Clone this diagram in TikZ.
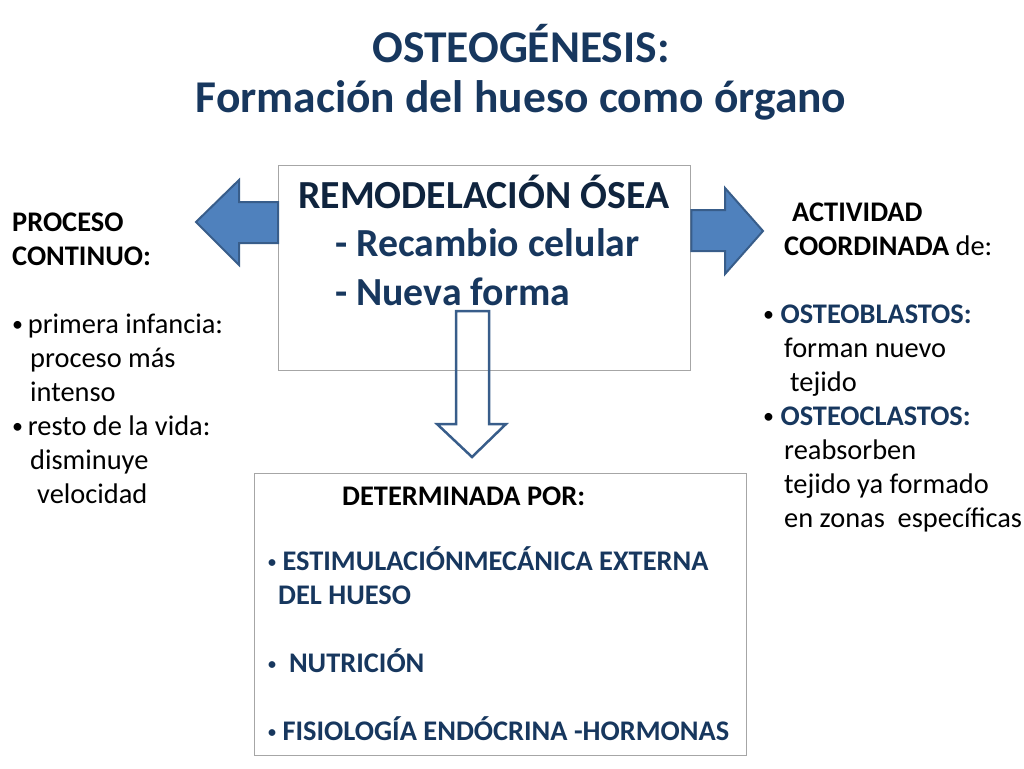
\documentclass[tikz,border=0pt]{standalone}
\usepackage{fontspec}
\setmainfont{Carlito}
\usetikzlibrary{positioning}
\definecolor{navy}{HTML}{17375E}
\definecolor{darknavy}{HTML}{0F243E}
\definecolor{arrowfill}{HTML}{4F81BD}
\definecolor{arrowline}{HTML}{385D8A}
\definecolor{boxline}{HTML}{A6A6A6}

\tikzset{
  block/.style={draw=boxline, line width=1.3pt},
  bigarrow/.style={draw=arrowline, fill=arrowfill, line width=2pt, line join=miter},
  hollowarrow/.style={draw=arrowline, line width=2.5pt, line join=miter},
  bodytext/.style={inner sep=0pt, align=left, font=\fontsize{28.4}{34}\selectfont},
  titletext/.style={inner sep=0pt, align=center, text=navy, font=\fontsize{45.5}{50}\selectfont\bfseries},
  remotext/.style={inner sep=0pt, align=left, text=navy, font=\fontsize{39.8}{48.5}\selectfont\bfseries},
}
\newcommand{\smallbullet}{{\fontsize{16}{34}\selectfont\raisebox{3pt}{•}}}
\newcommand{\bodybullet}{{\fontsize{22}{34}\selectfont\raisebox{1.5pt}{•}}}

\begin{document}
\begin{tikzpicture}[x=1pt, y={(0pt,-1pt)}]
  \useasboundingbox (0,0) rectangle (1024,768);

  % Title (base = last line)
  \node [titletext, anchor=base] (title) at (521,112) {OSTEOGÉNESIS:\\Formación del hueso como órgano};

  % Remodelacion box
  \node [block, minimum width=412pt, minimum height=205pt, anchor=north west] (remobox) at (278,165) {};
  \node [remotext, anchor=base west] (remo) at (298,305) {\textcolor{darknavy}{REMODELACIÓN ÓSEA}\\\hspace*{37pt}- Recambio celular\\\hspace*{37pt}- Nueva forma};

  % Determinada box
  \node [block, minimum width=492pt, minimum height=282pt, anchor=north west] (detbox) at (254,473) {};
  \node [bodytext, font=\fontsize{28.4}{34}\selectfont\bfseries, anchor=base west] (det) at (342,505) {DETERMINADA POR:};
  \node [bodytext, text=navy, font=\fontsize{28.4}{34}\selectfont\bfseries, anchor=base west] (factors) at (268,740)
    {\smallbullet\ ESTIMULACIÓNMECÁNICA EXTERNA\\\hspace*{10pt}DEL HUESO\\[34pt]
     \smallbullet\ \ NUTRICIÓN\\[34pt]
     \smallbullet\ FISIOLOGÍA ENDÓCRINA -HORMONAS};

  % Proceso continuo
  \node [bodytext, anchor=base west] (cont) at (12,503)
    {\textbf{PROCESO}\\\textbf{CONTINUO:}\\[34pt]
     \bodybullet\,primera infancia:\\\hspace*{18pt}proceso más\\\hspace*{18pt}intenso\\
     \bodybullet\,resto de la vida:\\\hspace*{18pt}disminuye\\\hspace*{25pt}velocidad};

  % Actividad coordinada
  \node [bodytext, anchor=base west] (act) at (763,527)
    {\hspace*{29pt}\textbf{ACTIVIDAD}\\\hspace*{21pt}\textbf{COORDINADA} de:\\[34pt]
     \bodybullet\ \textcolor{navy}{\textbf{OSTEOBLASTOS:}}\\\hspace*{21pt}forman nuevo\\\hspace*{27pt}tejido\\
     \bodybullet\ \textcolor{navy}{\textbf{OSTEOCLASTOS:}}\\\hspace*{21pt}reabsorben\\\hspace*{21pt}tejido ya formado\\\hspace*{21pt}en zonas\ \ específicas};

  % Arrows
  \draw [bigarrow] (remobox.west |- 0,202) -- (239,202) -- (239,180) -- (196,222)
    -- (239,265) -- (239,243) -- (remobox.west |- 0,243) -- cycle;
  \draw [bigarrow] (remobox.east |- 0,210) -- (725,210) -- (725,188) -- (763,231)
    -- (725,274) -- (725,251) -- (remobox.east |- 0,251) -- cycle;
  \draw [hollowarrow] (456,311) -- (489,311) -- (489,424) -- (506,424) -- (472,457)
    -- (437,424) -- (456,424) -- cycle;

\end{tikzpicture}
\end{document}
